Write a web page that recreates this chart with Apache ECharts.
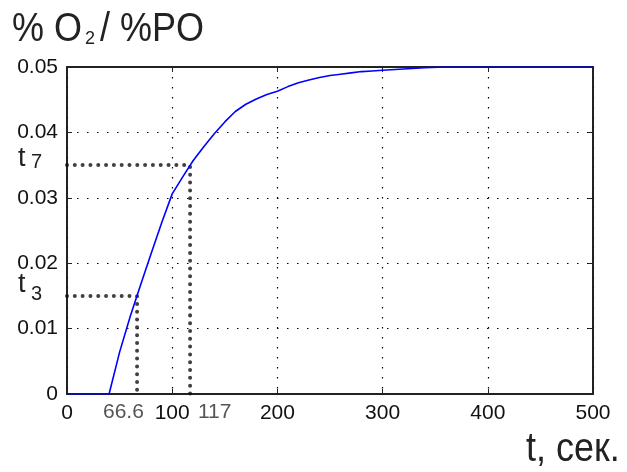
<!DOCTYPE html>
<html>
<head>
<meta charset="utf-8">
<script src="https://cdn.jsdelivr.net/npm/echarts@6/dist/echarts.min.js"></script>
<style>
  html, body { margin: 0; padding: 0; background: #fff; }
  #chart { width: 627px; height: 472px; }
</style>
</head>
<body>
<div id="chart"></div>
<script>
// Step response: O2 concentration vs time
const timeSec = [0, 40, 50, 60, 70, 80, 90, 100, 110, 120, 130, 140, 150, 160, 170, 180, 190, 200,
                 210, 220, 230, 240, 250, 260, 270, 280, 290, 300, 320, 340, 360, 500];
const o2Level = [0, 0, 0.0064, 0.0118, 0.0167, 0.0215, 0.0262, 0.0306, 0.0332, 0.0357, 0.0378, 0.0398,
                 0.0416, 0.0432, 0.0443, 0.0451, 0.0458, 0.0463, 0.0470, 0.0476, 0.0480, 0.0484, 0.0487,
                 0.0489, 0.0491, 0.0493, 0.0494, 0.0495, 0.0497, 0.0499, 0.05, 0.05];

// Characteristic points t3 and t7: [time, level]
const pointT3 = [66.6, 0.015];
const pointT7 = [117, 0.035];

const xTicks = [0, 100, 200, 300, 400, 500];
const yTicks = [0, 0.01, 0.02, 0.03, 0.04, 0.05];

const curve = timeSec.map((t, i) => [t, o2Level[i]]);
const guide = p => [[0, p[1]], [p[0], p[1]], [p[0], 0]];

const FONT = "'Liberation Sans', Arial, sans-serif";
const FRAME = '#222';

const chart = echarts.init(document.getElementById('chart'), null, { renderer: 'canvas' });

const gridDots = { show: true, lineStyle: { color: '#000', width: 1.2, type: [1.5, 8.5] } };
const tickIn = { show: true, inside: true, length: 5, lineStyle: { color: FRAME, width: 1 } };
const frameLine = { show: true, onZero: false, lineStyle: { color: FRAME, width: 2 } };

const heavyDots = { color: '#111', width: 4, type: [0.01, 7.8], cap: 'round', opacity: 0.8 };

chart.setOption({
  animation: false,
  backgroundColor: '#fff',
  grid: { left: 67, top: 67, right: 34, bottom: 78 },
  xAxis: [
    {
      type: 'value', min: xTicks[0], max: xTicks[xTicks.length - 1], interval: 100,
      axisLine: frameLine, axisTick: tickIn, splitLine: gridDots,
      axisLabel: { color: '#111', fontFamily: FONT, fontSize: 21, margin: 9 }
    },
    {
      type: 'value', position: 'top', min: xTicks[0], max: xTicks[xTicks.length - 1], interval: 100,
      axisLine: frameLine, axisTick: tickIn, splitLine: { show: false }, axisLabel: { show: false }
    }
  ],
  yAxis: [
    {
      type: 'value', min: yTicks[0], max: yTicks[yTicks.length - 1], interval: 0.01,
      axisLine: frameLine, axisTick: tickIn, splitLine: gridDots,
      axisLabel: { color: '#111', fontFamily: FONT, fontSize: 21, margin: 9 }
    },
    {
      type: 'value', position: 'right', min: yTicks[0], max: yTicks[yTicks.length - 1], interval: 0.01,
      axisLine: frameLine, axisTick: tickIn, splitLine: { show: false }, axisLabel: { show: false }
    }
  ],
  series: [
    {
      name: 't3', type: 'line', data: guide(pointT3), symbol: 'none', z: 3,
      lineStyle: heavyDots
    },
    {
      name: 't7', type: 'line', data: guide(pointT7), symbol: 'none', z: 3,
      lineStyle: heavyDots
    },
    {
      name: 'O2', type: 'line', data: curve, symbol: 'none', z: 5,
      lineStyle: { color: '#0000ff', width: 1.6 }
    }
  ],
  graphic: [
    { type: 'text', left: 12, top: 10, scaleY: 1.12, z: 10,
      style: { text: '% O', font: "36px " + FONT, fill: '#222' } },
    { type: 'text', left: 85, top: 30, z: 10,
      style: { text: '2', font: "18px " + FONT, fill: '#222' } },
    { type: 'text', left: 100, top: 10, scaleY: 1.12, z: 10,
      style: { text: '/ %PO', font: "36px " + FONT, fill: '#222' } },

    { type: 'text', left: 18, top: 145, z: 10,
      style: { text: 't', font: "27px " + FONT, fill: '#222' } },
    { type: 'text', left: 31, top: 152, z: 10,
      style: { text: '7', font: "20px " + FONT, fill: '#222' } },
    { type: 'text', left: 18, top: 271, z: 10,
      style: { text: 't', font: "27px " + FONT, fill: '#222' } },
    { type: 'text', left: 31, top: 284, z: 10,
      style: { text: '3', font: "20px " + FONT, fill: '#222' } },

    { type: 'text', left: 103, top: 402, z: 10,
      style: { text: '66.6', font: "21px " + FONT, fill: '#555' } },
    { type: 'text', left: 198, top: 402, z: 10,
      style: { text: '117', font: "21px " + FONT, fill: '#555' } },

    { type: 'text', left: 526, top: 430, scaleY: 1.12, z: 10,
      style: { text: 't, сек.', font: "36px " + FONT, fill: '#222' } }
  ]
});
</script>
</body>
</html>
